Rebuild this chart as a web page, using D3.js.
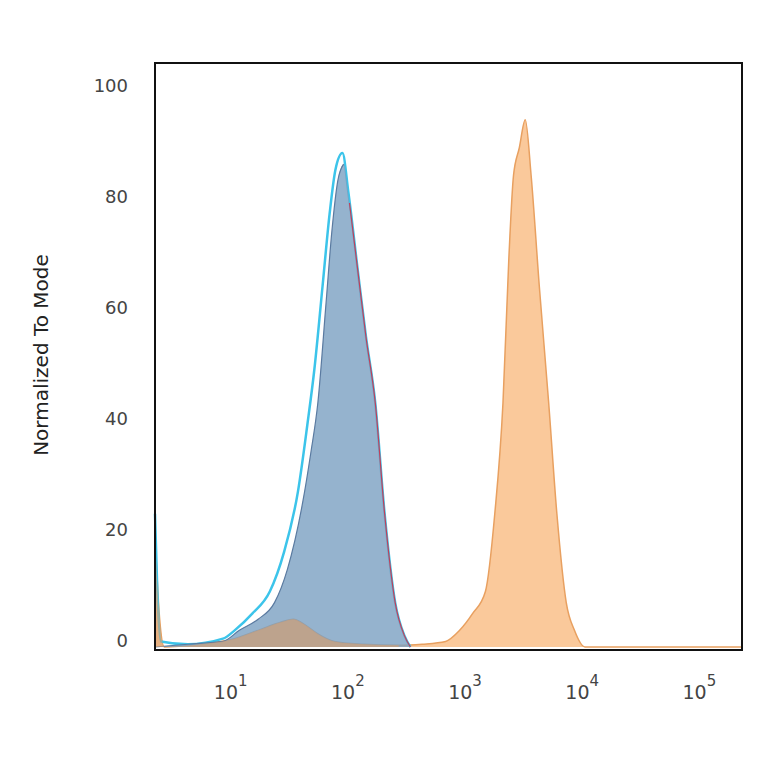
<!DOCTYPE html><html><head><meta charset="utf-8"><script src="https://cdn.jsdelivr.net/npm/d3@7"></script>
<style>body{margin:0;background:#fff}</style></head><body><svg id="c" width="764" height="764"></svg><script>
const yTicks=[0,20,40,60,80,100];
const xTicks=[1,2,3,4,5];
const blue=[[0.32,0],[0.6,0.5],[0.9,1],[1.04,3],[1.2,5],[1.34,8],[1.45,14],[1.58,26],[1.65,35],[1.71,44],[1.78,62],[1.83,75],[1.88,84],[1.93,87],[1.98,80],[2.05,68],[2.12,56],[2.2,44],[2.28,24],[2.37,8],[2.45,2],[2.5,0]];
const cyan=[[0.32,24],[0.34,10],[0.37,1],[0.6,0.5],[0.9,1.5],[1.0,3],[1.15,6],[1.3,10],[1.42,17],[1.54,28],[1.62,40],[1.68,50],[1.75,65],[1.81,78],[1.86,86],[1.92,89],[1.97,82],[2.05,68],[2.12,56],[2.2,44],[2.28,24],[2.37,8],[2.45,2],[2.5,0]];
const orange=[[0.32,20],[0.36,5],[0.4,0],[0.7,0.5],[1.0,1.5],[1.2,3],[1.4,4.5],[1.5,5],[1.6,4],[1.7,2.5],[1.85,1],[2.1,0.5],[2.4,0.3],[2.6,0.5],[2.8,1],[2.92,3],[3.03,6],[3.14,10],[3.22,24],[3.29,44],[3.34,70],[3.38,85],[3.43,90],[3.48,95],[3.53,85],[3.6,65],[3.68,44],[3.75,24],[3.83,8],[3.9,3],[3.99,0],[5.33,0]];
const svg=d3.select("#c");
const x=d3.scaleLinear().domain([0.32,5.33]).range([155,742]);
const y=d3.scaleLinear().domain([0,100]).range([647,92]);
const area=d3.area().x(d=>x(d[0])).y0(y(0)).y1(d=>y(d[1])).curve(d3.curveMonotoneX);
const line=d3.line().x(d=>x(d[0])).y(d=>y(d[1])).curve(d3.curveMonotoneX);
const g=svg.append("g");
g.append("path").attr("d",area(orange)).attr("fill","#f9c08a").attr("opacity",0.85);
g.append("path").attr("d",line(orange)).attr("fill","none").attr("stroke","#e8a060").attr("stroke-width",1.5);
g.append("path").attr("d",line(cyan)).attr("fill","none").attr("stroke","#3cc4ea").attr("stroke-width",2.5);
g.append("path").attr("d",area(blue)).attr("fill","#7aa0c2").attr("opacity",0.8);
g.append("path").attr("d",line(blue.filter(d=>d[0]>=1.95))).attr("fill","none").attr("stroke","#c0405a").attr("stroke-width",1.2);
g.append("path").attr("d",line(blue.filter(d=>d[0]<=1.95))).attr("fill","none").attr("stroke","#5a7aa0").attr("stroke-width",1.2);
g.append("path").attr("d",area(orange.filter(d=>d[0]<2.6))).attr("fill","#d9a070").attr("opacity",0.6);
svg.append("rect").attr("x",155).attr("y",63).attr("width",587).attr("height",587).attr("fill","none").attr("stroke","#111").attr("stroke-width",2);
svg.selectAll(".yt").data(yTicks).join("text").attr("x",128).attr("y",d=>y(d)-5).attr("text-anchor","end").attr("dominant-baseline","middle")
 .attr("font-family","DejaVu Sans").attr("font-size",18).attr("fill","#444").text(d=>d);
const xt=svg.selectAll(".xt").data(xTicks).join("text").attr("x",d=>x(d)-4).attr("y",699).attr("text-anchor","middle")
 .attr("font-family","DejaVu Sans").attr("font-size",19).attr("fill","#444");
xt.append("tspan").text("10");
xt.append("tspan").attr("dy",-13).attr("font-size",15).text(d=>d);
svg.append("text").attr("transform","translate(48,355) rotate(-90)").attr("text-anchor","middle").attr("font-family","DejaVu Sans").attr("font-size",20).attr("fill","#222").text("Normalized To Mode");
svg.append("text").attr("x",446).attr("y",740).attr("text-anchor","middle").attr("font-family","DejaVu Sans").attr("font-size",20).attr("fill","#222").text("FITC-A");
svg.append("rect").attr("x",0).attr("y",725).attr("width",764).attr("height",39).attr("fill","#fff");
</script></body></html>
